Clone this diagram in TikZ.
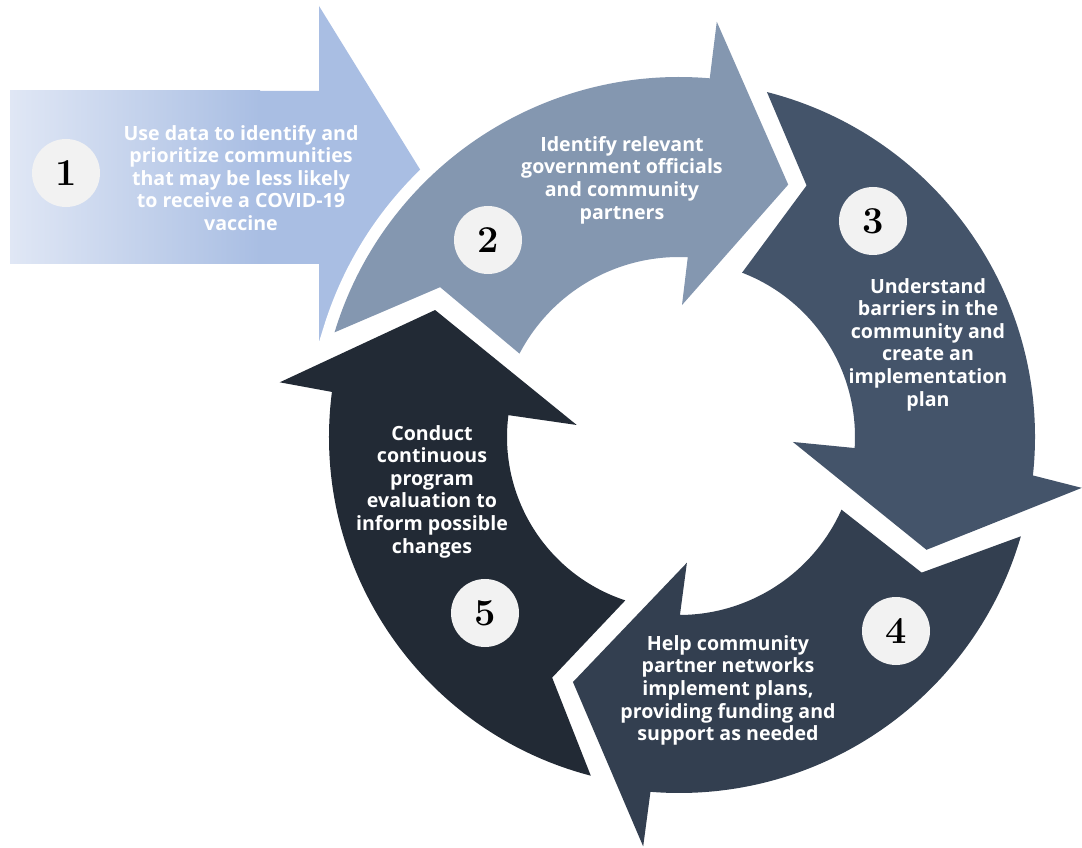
\documentclass[tikz,border=0pt]{standalone}
\usepackage{fontspec}
\newfontfamily\opensans{Open Sans}
\begin{document}
\begin{tikzpicture}[x=1pt,y=1pt,
  steptext/.style={align=center,text=white,font=\opensans\bfseries\fontsize{19.6}{22.6}\selectfont},
  numcircle/.style={circle,fill=circgray,minimum size=68pt,inner sep=0pt,font=\bfseries\fontsize{38}{38}\selectfont,text=black}]
\definecolor{arA}{HTML}{A9BEE3}
\definecolor{arAl}{HTML}{E0E7F5}
\definecolor{arB}{HTML}{8497B0}
\definecolor{arC}{HTML}{44546A}
\definecolor{arD}{HTML}{333F50}
\definecolor{arE}{HTML}{222A35}
\definecolor{circgray}{HTML}{F2F2F2}
\useasboundingbox (0,0) rectangle (1082,847);
\fill[white] (0,0) rectangle (1082,847);
% arrow 1 (straight)
\fill[arA] (10,756) -- (319,756) -- (319,841) -- (425,669.5) -- (319,498) -- (319,583) -- (10,583) -- cycle;
\shade[left color=arAl,right color=arA] (10,583) rectangle (260,756);
\begin{scope}[shift={(679,410)}]
% arrow 2
\path[fill=arB,preaction={draw=white,line width=24pt,line join=miter}]
  (163.1:360) arc[start angle=163.1,end angle=85.1,radius=360]
  -- (84.8:417) -- (66.6:275) -- (88.7:132) -- (87.2:180)
  arc[start angle=87.2,end angle=152.4,radius=180]
  -- (147.9:282) -- cycle;
% arrow 3
\fill[arC]
  (75.7:356) arc[start angle=75.7,end angle=-6.2,radius=356]
  -- (-7.2:406) -- (-24.5:272) -- (-2.5:114) -- (-3.6:176)
  arc[start angle=-3.6,end angle=69,radius=176]
  -- (63.1:282) -- cycle;
% arrow 4
\fill[arD]
  (-16.2:356) arc[start angle=-16.2,end angle=-94.6,radius=356]
  -- (-95:411) -- (-113.4:267) -- (-86.4:126) -- (-89.7:178)
  arc[start angle=-89.7,end angle=-24.1,radius=178]
  -- (-29.2:278) -- cycle;
% arrow 5
\fill[arE]
  (-104.6:350) arc[start angle=-104.6,end angle=-187.4,radius=350]
  -- (-187.8:403) -- (-207.5:275) -- (-186.7:103) -- (-187.3:172)
  arc[start angle=-187.3,end angle=-108.2,radius=172]
  -- (-117.8:272) -- cycle;
\end{scope}
% circles
\node[numcircle] (c1) at (66,674) {1};
\node[numcircle] (c2) at (488,607) {2};
\node[numcircle] (c3) at (873,626) {3};
\node[numcircle] (c4) at (896,216) {4};
\node[numcircle] (c5) at (485,234) {5};
% texts
\node[steptext] (t1) at (241,669) {Use data to identify and\\prioritize communities\\that may be less likely\\to receive a COVID-19\\vaccine};
\node[steptext] (t2) at (622,667) {Identify relevant\\government officials\\and community\\partners};
\node[steptext] (t3) at (928,502.5) {Understand\\barriers in the\\community and\\create an\\implementation\\plan};
\node[steptext] (t4) at (728,156.5) {Help community\\partner networks\\implement plans,\\providing funding and\\support as needed};
\node[steptext] (t5) at (432,355.5) {Conduct\\continuous\\program\\evaluation to\\inform possible\\changes};
\end{tikzpicture}
\end{document}
